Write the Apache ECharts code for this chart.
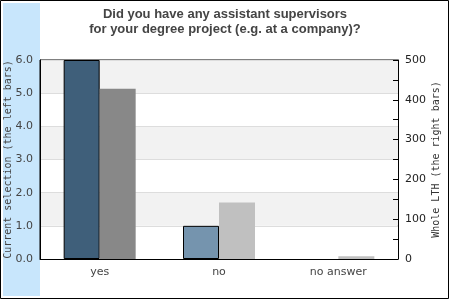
<!DOCTYPE html>
<html><head><meta charset="utf-8">
<script src="https://cdn.jsdelivr.net/npm/echarts@6/dist/echarts.min.js"></script>
<style>html,body{margin:0;padding:0;background:#fff}#c{width:450px;height:300px}</style>
</head><body><div id="c"></div>
<script>
const categories = ['yes', 'no', 'no answer'];
const currentSelection = [6, 1, 0];
const wholeLTH = [428, 142, 7];
const leftTicks = ['0.0','1.0','2.0','3.0','4.0','5.0','6.0'];
const leftColors = ['#3f5f7a', '#7594ae', '#7594ae'];
const rightColors = ['#888888', '#c0c0c0', '#c0c0c0'];

const chart = echarts.init(document.getElementById('c'), null, {renderer: 'canvas'});
chart.setOption({
  animation: false,
  backgroundColor: '#fff',
  graphic: [
    {type: 'rect', z: -10, shape: {x: 3, y: 3, width: 37, height: 293}, style: {fill: '#c8e6fc'}},
    {type: 'rect', z: 100, shape: {x: 0.5, y: 0.5, width: 448, height: 298}, style: {fill: null, stroke: '#000', lineWidth: 1}}
  ],
  title: {
    text: 'Did you have any assistant supervisors\nfor your degree project (e.g. at a company)?',
    left: 'center', top: 2,
    textStyle: {fontFamily: 'Liberation Sans, Arial', fontWeight: 'bold', fontSize: 13, color: '#444', lineHeight: 15}
  },
  grid: {left: 40, right: 52, top: 60, bottom: 41, show: true, borderColor: '#000', borderWidth: 1,
    backgroundColor: 'transparent', containLabel: false, outerBoundsMode: 'none'},
  xAxis: {
    type: 'category', data: categories,
    axisLine: {lineStyle: {color: '#000'}},
    axisTick: {show: false},
    axisLabel: {fontFamily: 'DejaVu Sans', fontSize: 11, color: '#444', margin: 8}
  },
  yAxis: [
    {
      type: 'value', min: 0, max: 6, interval: 1, position: 'left',
      name: 'Current selection (the left bars)', nameLocation: 'middle', nameGap: 27,
      nameMoveOverlap: false,
      nameTextStyle: {fontFamily: 'DejaVu Sans Mono', fontSize: 10, color: '#444'},
      axisLine: {show: true, lineStyle: {color: '#000'}},
      axisTick: {show: false},
      axisLabel: {fontFamily: 'DejaVu Sans', fontSize: 11, color: '#444', margin: 7,
        formatter: v => leftTicks[Math.round(v)]},
      splitLine: {show: true, lineStyle: {color: '#dddddd'}},
      splitArea: {show: true, areaStyle: {color: ['#ffffff', '#f2f2f2']}}
    },
    {
      type: 'value', min: 0, max: 500, interval: 100, position: 'right',
      name: 'Whole LTH (the right bars)', nameLocation: 'middle', nameGap: 33,
      nameMoveOverlap: false,
      nameTextStyle: {fontFamily: 'DejaVu Sans Mono', fontSize: 10, color: '#333'},
      axisLine: {show: true, lineStyle: {color: '#000'}},
      axisTick: {show: true, inside: true, length: 5, lineStyle: {color: '#000'}},
      minorTick: {show: true, splitNumber: 2, length: 5, lineStyle: {color: '#000'}},
      axisLabel: {fontFamily: 'DejaVu Sans', fontSize: 11, color: '#222', margin: 7},
      splitLine: {show: false}
    }
  ],
  series: [
    {
      type: 'bar', yAxisIndex: 0, barWidth: 36, barGap: '0%',
      data: currentSelection.map((v, i) => ({value: v,
        itemStyle: {color: leftColors[i], borderWidth: v === 0 ? 0 : 1, borderColor: '#000'}}))
    },
    {
      type: 'bar', yAxisIndex: 1, barWidth: 36, barGap: '0%',
      data: wholeLTH.map((v, i) => ({value: v, itemStyle: {color: rightColors[i]}}))
    }
  ]
});
</script></body></html>
